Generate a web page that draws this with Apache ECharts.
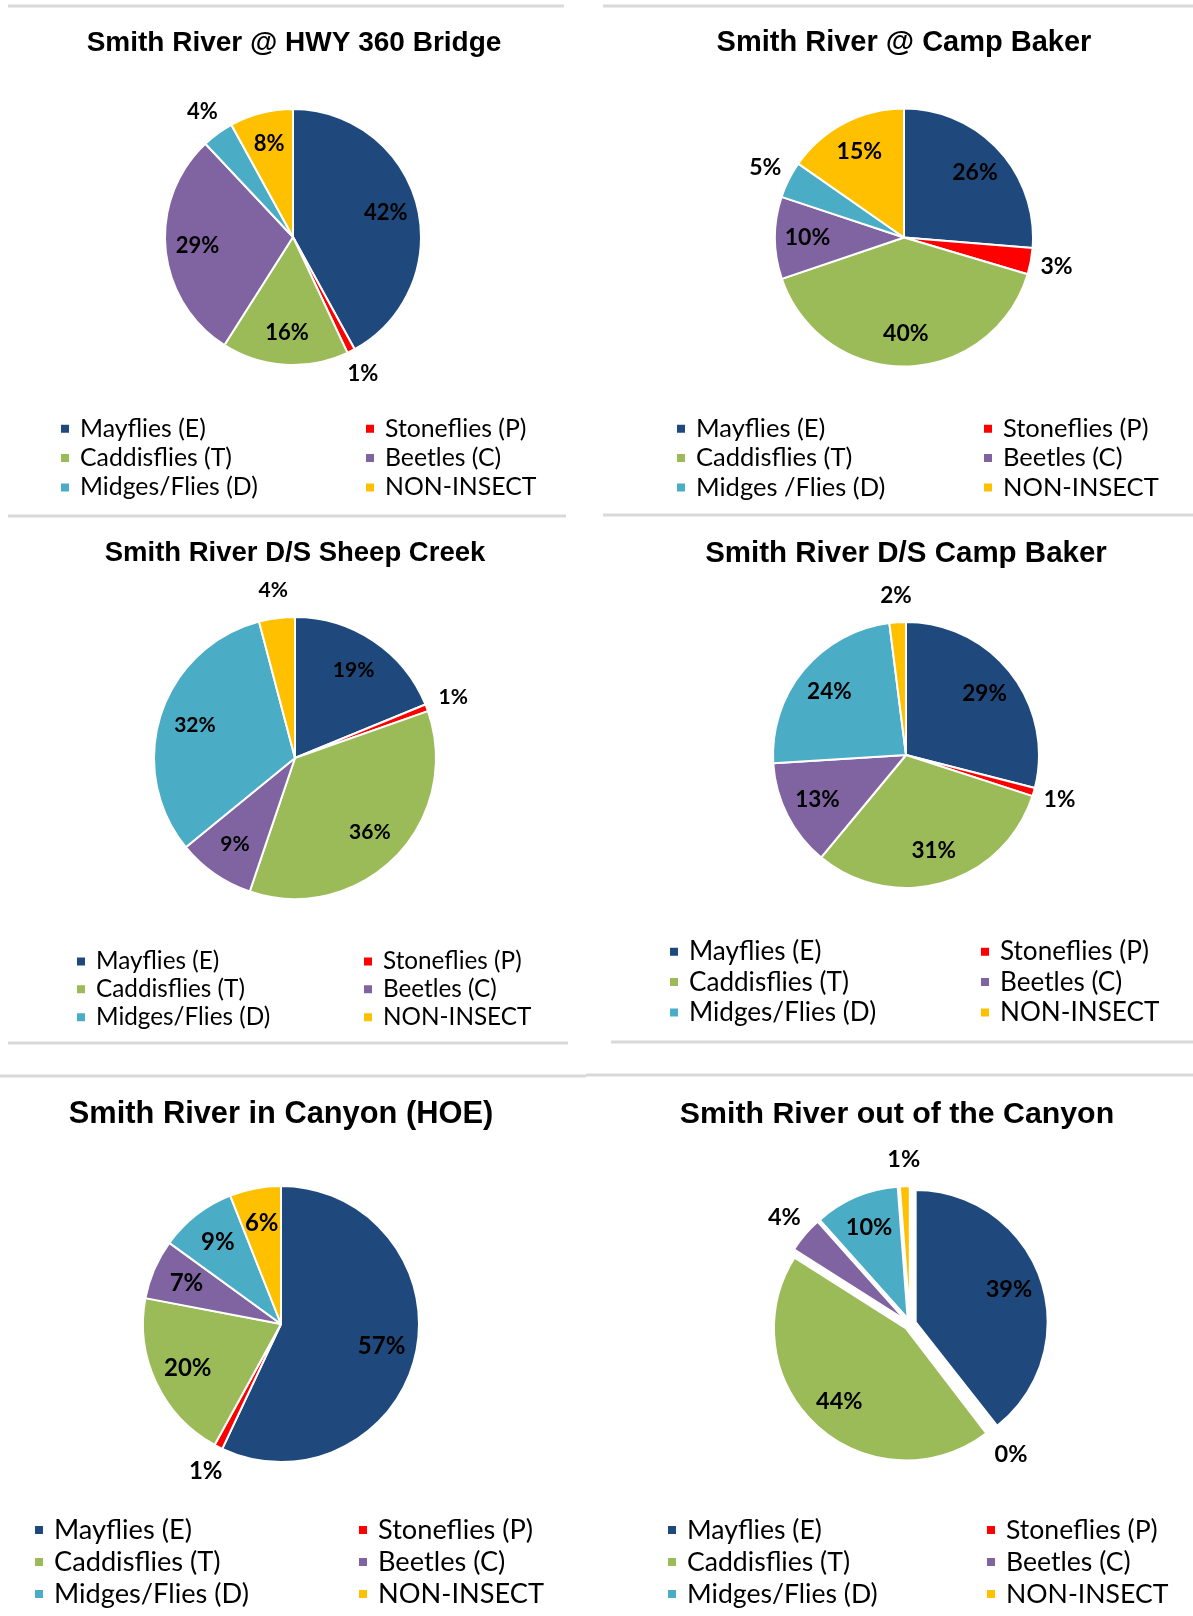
<!DOCTYPE html>
<html>
<head>
<meta charset="utf-8">
<script src="https://cdn.jsdelivr.net/npm/echarts@6/dist/echarts.min.js"></script>
<style>
  html, body { margin: 0; padding: 0; background: #fff; }
  #chart { width: 1193px; height: 1616px; }
</style>
</head>
<body>
<div id="chart"></div>
<script>
// categories (the Camp Baker sheet spells one of them with a space)
const categories = ['Mayflies (E)', 'Stoneflies (P)', 'Caddisflies (T)', 'Beetles (C)', 'Midges/Flies (D)', 'NON-INSECT'];
const categoriesCampBaker = ['Mayflies (E)', 'Stoneflies (P)', 'Caddisflies (T)', 'Beetles (C)', 'Midges /Flies (D)', 'NON-INSECT'];
const colors = ['#1f497d', '#ff0000', '#9bbb59', '#8064a2', '#4bacc6', '#ffc000'];

const titles = [
    'Smith River @ HWY 360 Bridge',
    'Smith River @ Camp Baker',
    'Smith River D/S Sheep Creek',
    'Smith River D/S Camp Baker',
    'Smith River in Canyon (HOE)',
    'Smith River out of the Canyon'
];

// percent of sample, same order as categories
const hwy360 = [42, 1, 16, 29, 4, 8];
const campBaker = [26.3, 3.3, 40.2, 10.3, 4.6, 15.3];
const sheepCreekDS = [18.8, 0.8, 35.6, 8.9, 31.8, 4.1];
const campBakerDS = [29, 1, 31, 13, 24, 2];
const canyonHOE = [57, 1, 20, 7, 9, 6];
const outOfCanyon = [39.4, 0.2, 44.4, 4.4, 10.4, 1.2];

const sites = [
    { title: titles[0], names: categories, values: hwy360, outside: [1, 4] },
    { title: titles[1], names: categoriesCampBaker, values: campBaker, outside: [1, 4] },
    { title: titles[2], names: categories, values: sheepCreekDS, outside: [1, 5] },
    { title: titles[3], names: categories, values: campBakerDS, outside: [1, 5] },
    { title: titles[4], names: categories, values: canyonHOE, outside: [1] },
    { title: titles[5], names: categories, values: outOfCanyon, outside: [1, 3, 5] }
];

// page layout: title [x, y, size], pie centre/radius, legend [col1 x, col2 x, top, row height, font size]
const layout = [
    { title: [294, 43, 28], center: [293, 237], r: 128, legend: [59, 364, 414, 29.4, 24.8], label: 22 },
    { title: [904, 43, 29], center: [904, 237.5], r: 129, legend: [675, 982, 414, 29.4, 25.5], label: 23 },
    { title: [295, 553, 27.5], center: [295, 758], r: 141, legend: [75, 362, 947.5, 27.9, 24.3], label: 21 },
    { title: [906, 554, 29.5], center: [906, 755], r: 133, legend: [668, 979, 936.5, 30.4, 26.1], label: 22.5 },
    { title: [281, 1115, 30.8], center: [281, 1324], r: 138, legend: [33, 357, 1514, 32, 27.2], label: 24 },
    { title: [897, 1115, 30.3], center: [910, 1324], r: 132, explode: 6, legend: [666, 985, 1514, 32, 26.6], label: 23.5 }
];

// grey rules between the panels
const rules = [
    [8, 6, 564, 6], [603, 6, 1193, 6],
    [8, 516, 566, 516], [603, 515, 1193, 515],
    [8, 1043, 568, 1043], [611, 1042, 1193, 1042],
    [0, 1076, 586, 1076], [586, 1075, 1193, 1075]
];

const chart = echarts.init(document.getElementById('chart'), null, { renderer: 'canvas' });

const pies = [];
const labelRings = [];
const title = [];
const legend = [];

sites.forEach((site, k) => {
    const p = layout[k];
    const exploded = !!p.explode;
    const items = site.values.map((v, i) => ({ name: site.names[i], value: v, selected: exploded }));
    const base = {
        type: 'pie',
        center: p.center,
        startAngle: 90,
        clockwise: true,
        avoidLabelOverlap: false,
        animation: false,
        selectedMode: exploded ? 'multiple' : false,
        selectedOffset: p.explode || 0,
        emphasis: { disabled: true }
    };

    pies.push(Object.assign({}, base, {
        radius: p.r,
        itemStyle: { borderColor: '#fff', borderWidth: 2 },
        select: { itemStyle: { borderColor: '#fff', borderWidth: 2 } },
        label: { show: false },
        labelLine: { show: false },
        data: items.map((d, i) => Object.assign({}, d, { itemStyle: { color: colors[i] } }))
    }));

    // transparent rings that only carry the labels, inner ones inside, small slices outside
    [[0.45, 1, false], [1, 1.36, true]].forEach(([a, b, out]) => {
        labelRings.push(Object.assign({}, base, {
            silent: true,
            radius: [p.r * a, p.r * b],
            itemStyle: { color: 'rgba(0,0,0,0)', borderWidth: 0 },
            select: { itemStyle: { color: 'rgba(0,0,0,0)', borderWidth: 0 } },
            labelLine: { show: false },
            label: {
                show: true,
                position: 'inside',
                color: '#000',
                fontFamily: 'Lato',
                fontWeight: 'bold',
                fontSize: p.label,
                formatter: prm => Math.round(prm.percent) + '%'
            },
            data: items.map((d, i) => Object.assign({}, d, { label: { show: site.outside.includes(i) === out } }))
        }));
    });

    title.push({
        text: site.title,
        left: p.title[0],
        top: p.title[1],
        textAlign: 'center',
        textVerticalAlign: 'middle',
        padding: 0,
        textStyle: { fontFamily: 'Liberation Sans', fontWeight: 'bold', fontSize: p.title[2], color: '#000' }
    });

    [[0, 2, 4], [1, 3, 5]].forEach((col, c) => {
        legend.push({
            orient: 'vertical',
            left: p.legend[c],
            top: p.legend[2],
            padding: 0,
            itemGap: 0,
            itemWidth: 10,
            itemHeight: 10,
            icon: 'rect',
            selectedMode: false,
            textStyle: {
                fontFamily: 'Lato',
                fontSize: p.legend[4],
                lineHeight: p.legend[3],
                color: '#000',
                padding: [0, 0, 0, 5]
            },
            data: col.map(i => ({ name: site.names[i], itemStyle: { color: colors[i] } }))
        });
    });
});

chart.setOption({
    backgroundColor: '#fff',
    title: title,
    legend: legend,
    graphic: rules.map(([x1, y1, x2, y2]) => ({
        type: 'line',
        silent: true,
        shape: { x1, y1, x2, y2 },
        style: { stroke: '#d9d9d9', lineWidth: 3 }
    })),
    series: pies.concat(labelRings)
});
</script>
</body>
</html>
